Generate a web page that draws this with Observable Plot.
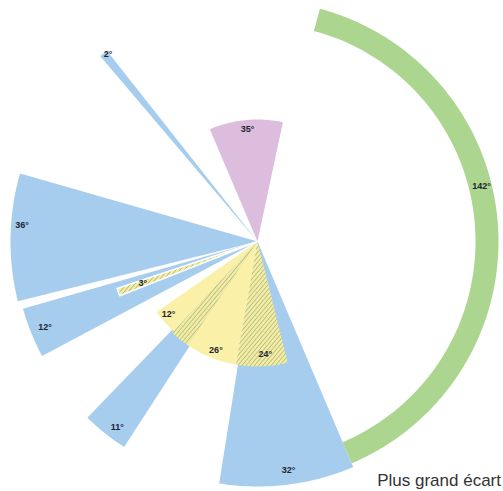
<!DOCTYPE html>
<html>
<head>
<meta charset="utf-8">
<script src="https://cdn.jsdelivr.net/npm/d3@7"></script>
<script src="https://cdn.jsdelivr.net/npm/@observablehq/plot@0.6"></script>
<style>
  html, body { margin: 0; padding: 0; background: #fff; }
  #wrap { position: relative; width: 503px; height: 491px; overflow: hidden; }
  #caption { position: absolute; right: 2px; bottom: 1px; line-height: 19px; font-family: "Liberation Sans", Arial, sans-serif; font-size: 17px; color: #333; white-space: nowrap; }
</style>
</head>
<body>
<div id="wrap"><div id="caption">Plus grand écart</div></div>
<script>
// Wedges: angle measured clockwise from north, in degrees
const wedgeIds = ["blue32", "blue11", "blue12", "blue36", "blue2", "green142", "pink35", "yellow12", "hatchGap", "yellow26", "hatch24", "hatch3"];
const wedgeKind = ["blue", "blue", "blue", "blue", "blue", "green", "pink", "yellow", "hatch", "yellow", "hatch", "hatch"];
const startDeg = [157, 213, 242, 256, 319.7, 15, 337, 223, 214, 190, 166, 248.5];
const spanDeg  = [32, 11, 12, 30, 2, 142, 35, 12, 9, 24, 24, 3];
const innerR   = [0, 0, 0, 0, 0, 218, 0, 0, 0, 0, 0, 0];
const outerR   = [245, 245, 244, 247, 243, 241, 122, 123, 125, 125, 125, 148];

// Labels
const labelText   = ["35°", "142°", "2°", "36°", "3°", "12°", "12°", "26°", "24°", "11°", "32°"];
const labelAngle  = [355, 76, 321.5, 274, 250, 248, 230.6, 201, 176, 217, 172.3];
const labelRadius = [113, 231, 240, 236, 122, 229, 115, 116, 113, 233, 231];

const kindFill = {blue: "#a6cdee", green: "#acd690", pink: "#dcbddd", yellow: "#fbf0a8", hatch: "url(#hatch)"};

const rad = d => d * Math.PI / 180;
function wedgePoints(i) {
  const pts = [];
  const a0 = startDeg[i], a1 = startDeg[i] + spanDeg[i];
  const n = Math.max(2, Math.ceil(spanDeg[i] / 1));
  for (let k = 0; k <= n; k++) {
    const a = rad(a0 + (a1 - a0) * k / n);
    pts.push({x: outerR[i] * Math.sin(a), y: outerR[i] * Math.cos(a)});
  }
  if (innerR[i] > 0) {
    for (let k = n; k >= 0; k--) {
      const a = rad(a0 + (a1 - a0) * k / n);
      pts.push({x: innerR[i] * Math.sin(a), y: innerR[i] * Math.cos(a)});
    }
  } else {
    pts.push({x: 0, y: 0});
  }
  pts.push(pts[0]);
  return pts;
}

const marks = wedgeIds.map((id, i) => Plot.line(wedgePoints(i), {
  x: "x", y: "y",
  fill: kindFill[wedgeKind[i]],
  stroke: id === "hatch3" ? "#fff" : "none",
  strokeWidth: id === "hatch3" ? 1.5 : 0
}));

const labels = labelText.map((t, i) => ({
  text: t,
  x: labelRadius[i] * Math.sin(rad(labelAngle[i])),
  y: labelRadius[i] * Math.cos(rad(labelAngle[i]))
}));

marks.push(Plot.text(labels, {
  x: "x", y: "y", text: "text",
  fontSize: 9, fontWeight: "bold", fill: "#1e2430",
  fontFamily: "Liberation Sans, Arial, sans-serif"
}));

const chart = Plot.plot({
  width: 503,
  height: 491,
  margin: 0,
  x: {domain: [-257, 246], axis: null},
  y: {domain: [-250, 241], axis: null},
  style: {background: "transparent"},
  marks
});

// Hatch pattern definition
const ns = "http://www.w3.org/2000/svg";
const defs = document.createElementNS(ns, "defs");
const pat = document.createElementNS(ns, "pattern");
pat.setAttribute("id", "hatch");
pat.setAttribute("patternUnits", "userSpaceOnUse");
pat.setAttribute("width", "3.2");
pat.setAttribute("height", "3.2");
pat.setAttribute("patternTransform", "rotate(40)");
const bg = document.createElementNS(ns, "rect");
bg.setAttribute("width", "3.2"); bg.setAttribute("height", "3.2"); bg.setAttribute("fill", "#f4eca6");
const ln = document.createElementNS(ns, "line");
ln.setAttribute("x1", "0"); ln.setAttribute("y1", "0"); ln.setAttribute("x2", "0"); ln.setAttribute("y2", "3.2");
ln.setAttribute("stroke", "#86a060"); ln.setAttribute("stroke-width", "1");
pat.appendChild(bg); pat.appendChild(ln);
defs.appendChild(pat);
chart.insertBefore(defs, chart.firstChild);

const wrap = document.getElementById("wrap");
wrap.insertBefore(chart, wrap.firstChild);
</script>
</body>
</html>
